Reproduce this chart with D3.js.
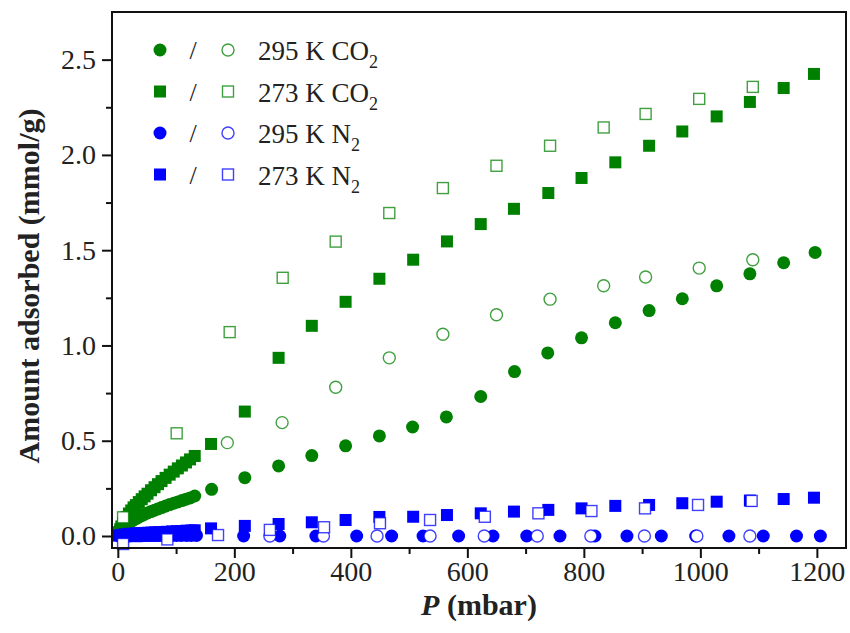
<!DOCTYPE html>
<html>
<head>
<meta charset="utf-8">
<script src="https://cdn.jsdelivr.net/npm/d3@7"></script>
<style>
  body { margin: 0; background: #fff; }
  svg { display: block; }
  text { font-family: "Liberation Serif", "Times New Roman", serif; fill: #222; }
</style>
</head>
<body>
<div id="chart"></div>
<script>
// 吸附等温线数据 (P in mbar, amount in mmol/g)

// 295 K CO2 吸附 (实心圆)
const co2_295_ads_P = [2, 4, 6, 9, 12, 15, 19, 23, 27, 31, 36, 41, 46, 51, 57, 63, 69, 75, 82, 89, 96, 103, 110, 117, 124, 132,
    161, 218, 276, 333, 391, 449, 506, 564, 623, 681, 738, 796, 854, 912, 969, 1028, 1085, 1143, 1197];
const co2_295_ads_V = [0.012, 0.022, 0.03, 0.041, 0.05, 0.058, 0.067, 0.076, 0.084, 0.091, 0.099, 0.107, 0.114, 0.121, 0.128, 0.135, 0.142, 0.149, 0.157, 0.165, 0.172, 0.179, 0.186, 0.193, 0.2, 0.21,
    0.245, 0.306, 0.368, 0.422, 0.473, 0.525, 0.572, 0.625, 0.732, 0.863, 0.961, 1.04, 1.119, 1.183, 1.245, 1.313, 1.376, 1.434, 1.488];

// 295 K CO2 脱附 (空心圆)
const co2_295_des_P = [188, 282, 374, 466, 558, 650, 742, 834, 906, 998, 1090];
const co2_295_des_V = [0.49, 0.595, 0.781, 0.935, 1.059, 1.161, 1.243, 1.313, 1.359, 1.406, 1.45];

// 273 K CO2 吸附 (实心方块)
const co2_273_ads_P = [2, 4, 6, 9, 12, 15, 19, 23, 27, 31, 36, 41, 46, 51, 57, 63, 69, 75, 82, 89, 96, 103, 110, 117, 124, 132,
    160, 218, 276, 333, 391, 449, 507, 565, 623, 680, 739, 796, 854, 912, 969, 1028, 1085, 1143, 1195];
const co2_273_ads_V = [0.02, 0.035, 0.05, 0.07, 0.085, 0.1, 0.118, 0.134, 0.15, 0.162, 0.178, 0.193, 0.208, 0.222, 0.24, 0.256, 0.272, 0.288, 0.305, 0.322, 0.338, 0.355, 0.37, 0.386, 0.402, 0.42,
    0.483, 0.653, 0.935, 1.103, 1.229, 1.35, 1.45, 1.546, 1.637, 1.717, 1.8, 1.879, 1.961, 2.048, 2.123, 2.202, 2.278, 2.351, 2.425];

// 273 K CO2 脱附 (空心方块)
const co2_273_des_P = [9, 101, 192, 283, 374, 466, 558, 650, 742, 834, 906, 998, 1090];
const co2_273_des_V = [0.098, 0.539, 1.07, 1.355, 1.545, 1.695, 1.826, 1.943, 2.048, 2.144, 2.215, 2.294, 2.357];

// 295 K N2 吸附 (实心圆)
const n2_295_ads_P = [2, 5, 8, 12, 16, 20, 25, 30, 35, 40, 46, 52, 58, 64, 71, 78, 85, 93, 101, 109, 118, 126, 135,
    216, 278, 340, 410, 470, 524, 585, 644, 702, 759, 819, 874, 933, 992, 1049, 1108, 1165, 1206];
const n2_295_ads_V = [0, 0, 0, 0, 0, 0, 0.001, 0.001, 0.001, 0.001, 0.002, 0.002, 0.002, 0.002, 0.002, 0.003, 0.003, 0.003, 0.003, 0.003, 0.003, 0.003, 0.003,
    0, 0, 0, 0, 0, 0, 0, 0, 0, 0, 0, 0, 0, 0, 0, 0, 0, 0];

// 295 K N2 脱附 (空心圆)
const n2_295_des_P = [261, 353, 445, 536, 629, 720, 812, 904, 994, 1085];
const n2_295_des_V = [0, 0, 0, 0, 0, 0, 0, 0, 0, 0];

// 273 K N2 吸附 (实心方块)
const n2_273_ads_P = [2, 5, 8, 12, 16, 20, 25, 30, 35, 40, 46, 52, 58, 64, 71, 78, 85, 93, 101, 109, 118, 126, 132,
    160, 218, 276, 333, 391, 449, 507, 565, 623, 680, 739, 796, 854, 912, 969, 1028, 1085, 1143, 1195];
const n2_273_ads_V = [0.002, 0.004, 0.006, 0.008, 0.01, 0.011, 0.012, 0.013, 0.014, 0.015, 0.016, 0.017, 0.018, 0.019, 0.02, 0.021, 0.022, 0.024, 0.025, 0.026, 0.028, 0.029, 0.03,
    0.04, 0.053, 0.063, 0.072, 0.084, 0.1, 0.101, 0.11, 0.119, 0.128, 0.137, 0.145, 0.158, 0.163, 0.172, 0.18, 0.186, 0.194, 0.201];

// 273 K N2 脱附 (空心方块)
const n2_273_des_P = [9, 85, 172, 261, 354, 450, 536, 630, 722, 813, 905, 996, 1088];
const n2_273_des_V = [-0.042, -0.018, 0.005, 0.032, 0.046, 0.067, 0.084, 0.101, 0.119, 0.131, 0.145, 0.163, 0.184];

// 坐标轴刻度
const xTicks = [0, 200, 400, 600, 800, 1000, 1200];
const xMinor = [100, 300, 500, 700, 900, 1100];
const yTicks = [0.0, 0.5, 1.0, 1.5, 2.0, 2.5];
const yMinor = [0.25, 0.75, 1.25, 1.75, 2.25];

// 图例
const legendLabels = ['295 K CO', '273 K CO', '295 K N', '273 K N'];
const legendShapes = ['circle', 'square', 'circle', 'square'];
const legendColors = ['green', 'green', 'blue', 'blue'];

const GREEN = '#008000';
const BLUE = '#0000ff';
const colorOf = { green: GREEN, blue: BLUE };

const width = 850, height = 633;
const plot = { left: 112, right: 846, top: 12, bottom: 548 };

const svg = d3.select('#chart').append('svg')
    .attr('width', width)
    .attr('height', height);

const xScale = d3.scaleLinear().domain([-10, 1250]).range([plot.left, plot.right]);
const yScale = d3.scaleLinear().domain([-0.063, 2.75]).range([plot.bottom, plot.top]);

// 把两个数组拼成点
function pts(P, V) {
    return P.map((p, i) => ({ p, v: V[i] }));
}

// 绘制一组点
function drawSeries(P, V, shape, color, open) {
    const data = pts(P, V);
    const g = svg.append('g');
    if (shape === 'circle') {
        g.selectAll('circle')
            .data(data)
            .enter()
            .append('circle')
            .attr('cx', d => xScale(d.p))
            .attr('cy', d => yScale(d.v))
            .attr('r', open ? 6 : 6.5)
            .style('fill', open ? '#fff' : color)
            .style('stroke', open ? color : 'none')
            .style('stroke-width', 1.4)
            .style('stroke-opacity', open ? 0.75 : 1);
    } else {
        const s = open ? 11 : 12;
        g.selectAll('rect')
            .data(data)
            .enter()
            .append('rect')
            .attr('x', d => xScale(d.p) - s / 2)
            .attr('y', d => yScale(d.v) - s / 2)
            .attr('width', s)
            .attr('height', s)
            .style('fill', open ? '#fff' : color)
            .style('stroke', open ? color : 'none')
            .style('stroke-width', 1.4)
            .style('stroke-opacity', open ? 0.75 : 1);
    }
}

// 实心 (吸附) 先画
drawSeries(co2_295_ads_P, co2_295_ads_V, 'circle', GREEN, false);
drawSeries(co2_273_ads_P, co2_273_ads_V, 'square', GREEN, false);
drawSeries(n2_295_ads_P, n2_295_ads_V, 'circle', BLUE, false);
drawSeries(n2_273_ads_P, n2_273_ads_V, 'square', BLUE, false);
// 空心 (脱附) 在上层
drawSeries(co2_295_des_P, co2_295_des_V, 'circle', GREEN, true);
drawSeries(co2_273_des_P, co2_273_des_V, 'square', GREEN, true);
drawSeries(n2_295_des_P, n2_295_des_V, 'circle', BLUE, true);
drawSeries(n2_273_des_P, n2_273_des_V, 'square', BLUE, true);

// 坐标轴
const xAxis = svg.append('g')
    .attr('transform', `translate(0,${plot.bottom})`)
    .call(d3.axisBottom(xScale).tickValues(xTicks).tickSize(10).tickPadding(3).tickFormat(d3.format('d')));
svg.append('g')
    .attr('transform', `translate(0,${plot.bottom})`)
    .call(d3.axisBottom(xScale).tickValues(xMinor).tickSize(6).tickFormat(''));

const yAxis = svg.append('g')
    .attr('transform', `translate(${plot.left},0)`)
    .call(d3.axisLeft(yScale).tickValues(yTicks).tickSize(10).tickPadding(6).tickFormat(d3.format('.1f')));
svg.append('g')
    .attr('transform', `translate(${plot.left},0)`)
    .call(d3.axisLeft(yScale).tickValues(yMinor).tickSize(6).tickFormat(''));

svg.selectAll('.domain').remove();
svg.selectAll('.tick line').style('stroke', '#111').style('stroke-width', 2);
xAxis.selectAll('text').style('font-size', '28px').style('font-family', '"Liberation Serif", serif').style('fill', '#222');
yAxis.selectAll('text').style('font-size', '28px').style('font-family', '"Liberation Serif", serif').style('fill', '#222');

// 外框
svg.append('rect')
    .attr('x', plot.left)
    .attr('y', plot.top)
    .attr('width', plot.right - plot.left)
    .attr('height', plot.bottom - plot.top)
    .style('fill', 'none')
    .style('stroke', '#111')
    .style('stroke-width', 2);

// 轴标题
const xTitle = svg.append('text')
    .attr('x', (plot.left + plot.right) / 2)
    .attr('y', 615)
    .attr('text-anchor', 'middle')
    .style('font-size', '30px')
    .style('font-weight', 'bold');
xTitle.append('tspan').style('font-style', 'italic').text('P');
xTitle.append('tspan').text(' (mbar)');

svg.append('text')
    .attr('transform', `translate(39,${(plot.top + plot.bottom) / 2 + 6}) rotate(-90)`)
    .attr('text-anchor', 'middle')
    .style('font-size', '30px')
    .style('font-weight', 'bold')
    .text('Amount adsorbed (mmol/g)');

// 图例
const legend = svg.append('g');
legendLabels.forEach((label, i) => {
    const cy = 50 + i * 41.5;
    const color = colorOf[legendColors[i]];
    if (legendShapes[i] === 'circle') {
        legend.append('circle').attr('cx', 160).attr('cy', cy).attr('r', 6.5).style('fill', color);
        legend.append('circle').attr('cx', 228).attr('cy', cy).attr('r', 6)
            .style('fill', '#fff').style('stroke', color).style('stroke-width', 1.4).style('stroke-opacity', 0.75);
    } else {
        legend.append('rect').attr('x', 154).attr('y', cy - 6).attr('width', 12).attr('height', 12).style('fill', color);
        legend.append('rect').attr('x', 222.5).attr('y', cy - 5.5).attr('width', 11).attr('height', 11)
            .style('fill', '#fff').style('stroke', color).style('stroke-width', 1.4).style('stroke-opacity', 0.75);
    }
    legend.append('text').attr('x', 193).attr('y', cy + 9).attr('text-anchor', 'middle')
        .style('font-size', '26px').text('/');
    const t = legend.append('text').attr('x', 258).attr('y', cy + 10).style('font-size', '27px');
    t.append('tspan').text(label);
    t.append('tspan').attr('dy', 8).style('font-size', '18px').text('2');
});
</script>
</body>
</html>
